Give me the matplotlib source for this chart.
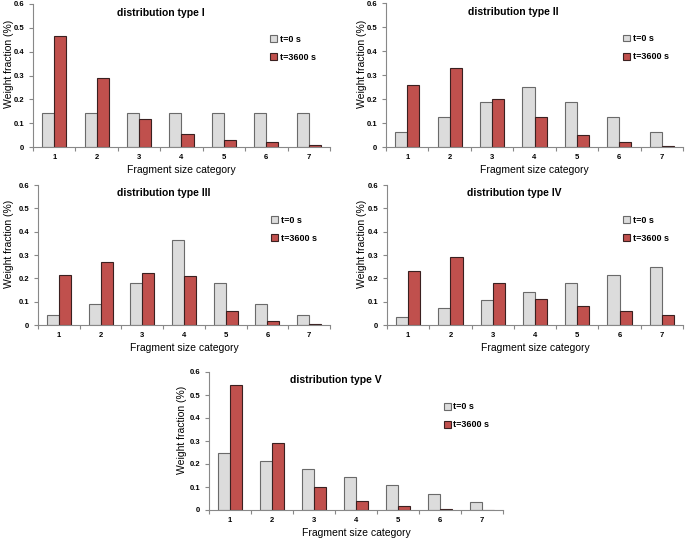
import numpy as np
import matplotlib.pyplot as plt

plt.rcParams['font.family'] = ['Liberation Sans', 'DejaVu Sans']

categories = [1, 2, 3, 4, 5, 6, 7]
titles = ['distribution type I', 'distribution type II', 'distribution type III',
          'distribution type IV', 'distribution type V']

t0_I = [0.143, 0.143, 0.143, 0.143, 0.143, 0.143, 0.143]
t3600_I = [0.465, 0.291, 0.118, 0.055, 0.030, 0.020, 0.010]
t0_II = [0.0625, 0.125, 0.1875, 0.25, 0.1875, 0.125, 0.0625]
t3600_II = [0.259, 0.328, 0.201, 0.125, 0.052, 0.022, 0.005]
t0_III = [0.045, 0.091, 0.182, 0.364, 0.182, 0.091, 0.045]
t3600_III = [0.213, 0.270, 0.222, 0.210, 0.058, 0.017, 0.004]
t0_IV = [0.036, 0.071, 0.107, 0.143, 0.179, 0.214, 0.250]
t3600_IV = [0.232, 0.292, 0.178, 0.113, 0.080, 0.060, 0.045]
t0_V = [0.250, 0.214, 0.179, 0.143, 0.107, 0.071, 0.036]
t3600_V = [0.545, 0.293, 0.101, 0.040, 0.016, 0.006, 0.002]

series0 = [t0_I, t0_II, t0_III, t0_IV, t0_V]
series1 = [t3600_I, t3600_II, t3600_III, t3600_IV, t3600_V]

W, H = 685, 540
# axes boxes in pixels: left, right, y of zero line, y of 0.6
boxes = [(33, 330, 147, 4), (386, 683, 147, 3), (38, 330, 325, 185),
         (387, 683, 325, 185), (209, 503, 510, 372)]
# x pixel of the right edge of the (rotated) y label
ylab_x = [14, 367, 14, 367, 187]

fig = plt.figure(figsize=(W / 100, H / 100), dpi=100)
x = np.arange(len(categories)) + 1
bw = 0.286

for i in range(5):
    l, r, b, t = boxes[i]
    ax = fig.add_axes([l / W, (H - b) / H, (r - l) / W, (b - t) / H])
    ax.bar(x - bw / 2, series0[i], bw, color='#dcdcdc', edgecolor='#6a6a6a',
           linewidth=0.8, label='t=0 s')
    ax.bar(x + bw / 2, series1[i], bw, color='#c0504d', edgecolor='#3a2020',
           linewidth=0.8, label='t=3600 s')
    ax.set_xlim(0.5, 7.5)
    ax.set_ylim(0, 0.6)
    ax.set_yticks([0, 0.1, 0.2, 0.3, 0.4, 0.5, 0.6])
    ax.set_yticklabels(['0', '0.1', '0.2', '0.3', '0.4', '0.5', '0.6'],
                       fontsize=5.5, fontweight='bold')
    ax.set_xticks(np.arange(0.5, 8, 1))
    ax.set_xticklabels([])
    ax.set_xticks(x, minor=True)
    ax.set_xticklabels([str(c) for c in categories], minor=True,
                       fontsize=5.5, fontweight='bold')
    ax.tick_params(axis='x', which='minor', length=0, pad=5)
    ax.tick_params(axis='both', which='major', length=3, color='#888888', width=0.8)
    for s in ['top', 'right']:
        ax.spines[s].set_visible(False)
    for s in ['left', 'bottom']:
        ax.spines[s].set_color('#888888')
        ax.spines[s].set_linewidth(0.8)
    ax.set_xlabel('Fragment size category', fontsize=7.5, labelpad=3)
    ax.set_ylabel('Weight fraction (%)', fontsize=7.5)
    ax.yaxis.set_label_coords((ylab_x[i] - l) / (r - l), 0.58)
    ax.text(0.43, 0.94, titles[i], transform=ax.transAxes, ha='center',
            va='center', fontsize=7.5, fontweight='bold')
    ax.legend(loc='upper left', bbox_to_anchor=(0.77, 0.84), frameon=False,
              handlelength=0.8, handleheight=0.8, handletextpad=0.3,
              labelspacing=1.0, prop={'size': 6.5, 'weight': 'bold'})

fig.savefig('out.png', dpi=100)
